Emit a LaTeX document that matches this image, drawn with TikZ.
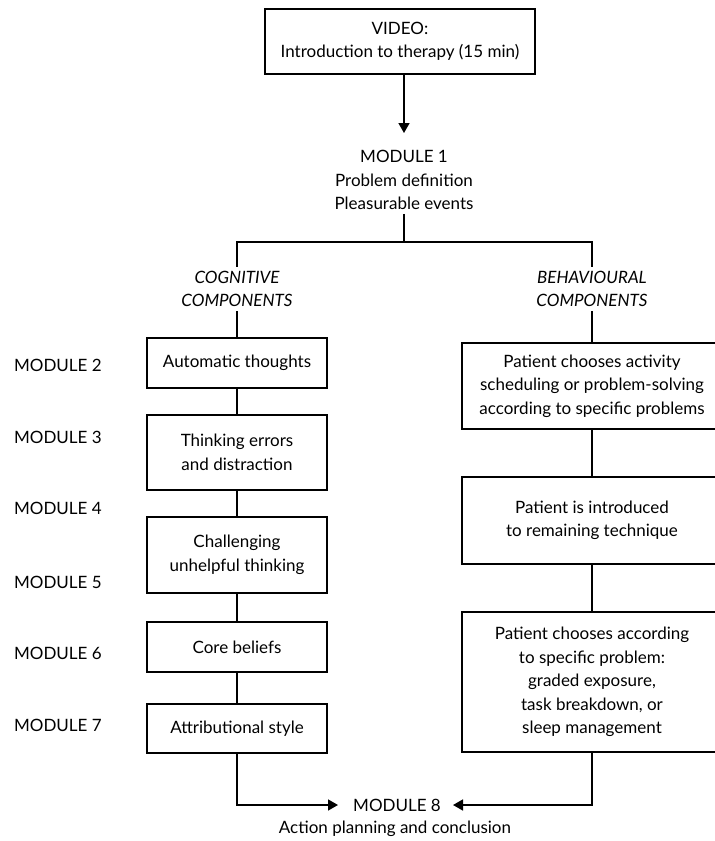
\documentclass[tikz,border=0pt]{standalone}
\usepackage{fontspec}
\setmainfont{Lato}
\usetikzlibrary{arrows.meta, positioning}
\tikzset{->,>={Triangle[length=10pt,width=11pt]},
every node/.style={font=\fontsize{17}{23.5}\selectfont, align=center},
box/.style={draw, -, line width=1.6pt, minimum width=180pt},
bigbox/.style={box, minimum width=260pt},
comp/.style={font=\fontsize{17}{23.5}\selectfont\itshape},
modlabel/.style={anchor=west},
}

\begin{document}
\begin{tikzpicture}[x=1pt, y=-1pt, line width=1.6pt]
    \useasboundingbox (0,0) rectangle (715,841);
    % top
    \node[box, minimum width=270pt, minimum height=65pt] (video) at (400,41.5) {VIDEO:\\Introduction to therapy (15 min)};
    \node (m1) at (404,180) {MODULE 1\\Problem definition\\Pleasurable events};
    \coordinate (m1top) at (404,133);
    \coordinate (split) at (404,242);
    \node[comp] (cog) at (237,289) {COGNITIVE\\COMPONENTS};
    \node[comp] (beh) at (592,289) {BEHAVIOURAL\\COMPONENTS};
    % cognitive side
    \node[box, minimum height=50pt] (auto) at (237,363) {Automatic thoughts};
    \node[box, minimum height=75pt] (think) at (237,452.5) {Thinking errors\\and distraction};
    \node[box, minimum height=76pt] (chall) at (237,555) {Challenging\\unhelpful thinking};
    \node[box, minimum height=50pt] (core) at (237,647) {Core beliefs};
    \node[box, minimum height=49pt] (attr) at (237,728.5) {Attributional style};
    % behavioural side
    \node[bigbox, minimum height=86pt] (sched) at (592,386) {Patient chooses activity\\scheduling or problem-solving\\according to specific problems};
    \node[bigbox, minimum height=87pt] (intro) at (592,520.5) {Patient is introduced\\to remaining technique};
    \node[bigbox, minimum height=140pt] (choose) at (592,682) {Patient chooses according\\to specific problem:\\graded exposure,\\task breakdown, or\\sleep management};
    % module labels
    \node[modlabel] (l2) at (10,365) {MODULE 2};
    \node[modlabel] (l3) at (10,437) {MODULE 3};
    \node[modlabel] (l4) at (10,508) {MODULE 4};
    \node[modlabel] (l5) at (10,582) {MODULE 5};
    \node[modlabel] (l6) at (10,653) {MODULE 6};
    \node[modlabel] (l7) at (10,725) {MODULE 7};
    % bottom
    \node (m8) at (397,805) {MODULE 8};
    \node (plan) at (395,829) {Action planning and conclusion};
    \coordinate (m8in) at (338,805);
    \coordinate (m8out) at (453,805);
    \draw
    (video.south -| m1top) -- (m1top)
    ;
    \draw[-]
    (m1.south) -- (split)
    (cog.north) |- (split) -| (beh.north)
    (cog) -- (auto)
    (auto) -- (think)
    (think) -- (chall)
    (chall) -- (core)
    (core) -- (attr)
    (beh) -- (sched)
    (sched) -- (intro)
    (intro) -- (choose)
    ;
    \draw (attr.south) |- (m8in);
    \draw (choose.south) |- (m8out);
\end{tikzpicture}
\end{document}
